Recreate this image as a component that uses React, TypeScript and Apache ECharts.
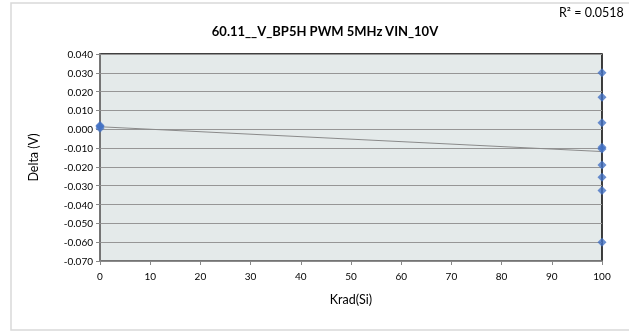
import React, { useEffect, useRef } from "react";
import * as echarts from "echarts";

const titleText = "60.11__V_BP5H PWM 5MHz VIN_10V";
const r2Text = "R\u00B2 = 0.0518";
const xName = "Krad(Si)";
const yName = "Delta (V)";

const doseX0: number[] = [0, 0, 0];
const delta0: number[] = [0.002, 0.0015, 0.0005];
const doseX100: number[] = [100, 100, 100, 100, 100, 100, 100, 100, 100];
const delta100: number[] = [0.030, 0.017, 0.0035, -0.0095, -0.0105, -0.019, -0.0255, -0.0325, -0.060];

const xTicks = { min: 0, max: 100, interval: 10 };
const yTicks = { min: -0.07, max: 0.04, interval: 0.01 };

export default function App() {
  const ref = useRef<HTMLDivElement>(null);
  useEffect(() => {
    if (!ref.current) return;
    const chart = echarts.init(ref.current, undefined, { renderer: "svg" });
    const xs = [...doseX0, ...doseX100];
    const ys = [...delta0, ...delta100];
    const n = xs.length;
    const mx = xs.reduce((a, b) => a + b, 0) / n;
    const my = ys.reduce((a, b) => a + b, 0) / n;
    let sxy = 0, sxx = 0;
    for (let i = 0; i < n; i++) {
      sxy += (xs[i] - mx) * (ys[i] - my);
      sxx += (xs[i] - mx) * (xs[i] - mx);
    }
    const slope = sxy / sxx;
    const intercept = my - slope * mx;
    const trend = [
      [xTicks.min, intercept + slope * xTicks.min],
      [xTicks.max, intercept + slope * xTicks.max],
    ];
    const pts = xs.map((x, i) => [x, ys[i]]);
    const font = "Lato, 'Liberation Sans', sans-serif";
    chart.setOption({
      animation: false,
      textStyle: { fontFamily: font },
      grid: { left: 100, right: 27, top: 54, bottom: 71, show: true, backgroundColor: "#E4EAEA", borderColor: "#000", borderWidth: 1.5 },
      title: {
        text: titleText,
        left: 320,
        top: 19,
        textAlign: "center",
        textStyle: { fontFamily: font, fontSize: 13, fontWeight: "bold", color: "#000" },
      },
      graphic: [
        { type: "rect", shape: { x: 11, y: 3, width: 640, height: 327 }, style: { fill: "none", stroke: "#D9D9D9", lineWidth: 1.5 }, silent: true, z: -1 },
        { type: "text", x: 559, y: 6, style: { text: r2Text, fontFamily: font, fontSize: 12.5, fill: "#000" } },
      ],
      xAxis: {
        type: "value",
        min: xTicks.min,
        max: xTicks.max,
        interval: xTicks.interval,
        name: xName,
        nameLocation: "middle",
        nameGap: 32,
        nameTextStyle: { fontFamily: font, fontSize: 12.5, color: "#000" },
        axisLine: { show: true, onZero: false, lineStyle: { color: "#888", width: 1.5 } },
        axisTick: { show: true, length: 4, lineStyle: { color: "#888" } },
        axisLabel: { fontFamily: font, fontSize: 10, color: "#000", margin: 10 },
        splitLine: { show: false },
      },
      yAxis: {
        type: "value",
        min: yTicks.min,
        max: yTicks.max,
        interval: yTicks.interval,
        name: yName,
        nameLocation: "middle",
        nameGap: 60,
        nameTextStyle: { fontFamily: font, fontSize: 12.5, color: "#000" },
        axisLine: { show: true, lineStyle: { color: "#888", width: 1.5 } },
        axisTick: { show: true, length: 4, lineStyle: { color: "#888" } },
        axisLabel: { fontFamily: font, fontSize: 10, color: "#000", margin: 7, formatter: (v: number) => v.toFixed(3) },
        splitLine: { show: true, lineStyle: { color: "#969696", width: 1 } },
      },
      series: [
        {
          type: "line",
          data: trend,
          showSymbol: false,
          symbol: "none",
          lineStyle: { color: "#8A8A8A", width: 1 },
          z: 2,
        },
        {
          type: "scatter",
          data: pts,
          symbol: "diamond",
          symbolSize: 9,
          itemStyle: { color: "#4472C4" },
          z: 3,
        },
      ],
    });
    return () => chart.dispose();
  }, []);
  return <div ref={ref} style={{ position: "fixed", left: 0, top: 0, width: 629, height: 332 }} />;
}
